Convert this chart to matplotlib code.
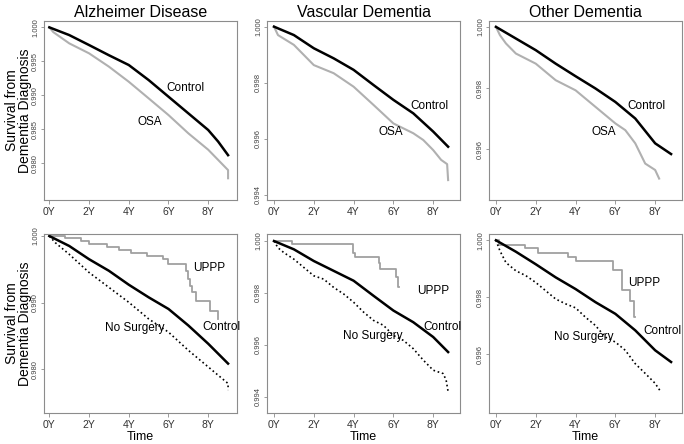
import matplotlib.pyplot as plt

plt.rcParams['font.family'] = ['Liberation Sans', 'DejaVu Sans']

# ---- data (years, survival) ----
# Alzheimer, control vs OSA
alz_ctrl_t = [0, 1, 2, 3, 4, 5, 6, 7, 8, 8.5, 9.0]
alz_ctrl_s = [1.0, 0.99887, 0.9974, 0.9959, 0.99446, 0.99225, 0.9898, 0.98735, 0.9849, 0.9832, 0.9812]
alz_osa_t = [0, 0.2, 1, 2, 3, 4, 5, 6, 7, 8, 8.5, 9.0, 9.0]
alz_osa_s = [1.0, 0.9993, 0.99765, 0.99618, 0.99422, 0.9920, 0.98956, 0.9871, 0.98441, 0.9820, 0.9805, 0.9790, 0.9778]

# Vascular dementia, control vs OSA
vas_ctrl_t = [0, 1, 2, 3, 4, 5, 6, 7, 8, 8.75]
vas_ctrl_s = [1.0, 0.9997, 0.99923, 0.99887, 0.99846, 0.99792, 0.99739, 0.99691, 0.99626, 0.99572]
vas_osa_t = [0, 0.2, 1, 2, 3, 4, 5, 6, 7, 7.5, 8, 8.4, 8.7, 8.75]
vas_osa_s = [1.0, 0.9997, 0.99935, 0.99863, 0.99834, 0.99786, 0.99721, 0.99655, 0.9962, 0.99596,
             0.9956, 0.99525, 0.9951, 0.99453]

# Other dementia, control vs OSA
oth_ctrl_t = [0, 1, 2, 3, 4, 5, 6, 7, 8, 8.8]
oth_ctrl_s = [1.0, 0.99962, 0.99924, 0.9988, 0.99839, 0.99799, 0.99755, 0.99701, 0.9962, 0.99585]
oth_osa_t = [0, 0.2, 0.5, 1, 2, 3, 4, 5, 6, 6.5, 7, 7.5, 8, 8.2]
oth_osa_s = [1.0, 0.99973, 0.99946, 0.99913, 0.9988, 0.99826, 0.99793, 0.99739, 0.99685, 0.99663,
             0.9962, 0.99554, 0.99533, 0.99505]

# Alzheimer, control / UPPP / no surgery
alz2_ctrl_t = [0, 1, 2, 3, 4, 5, 6, 7, 8, 9]
alz2_ctrl_s = [1.0, 0.99851, 0.99652, 0.99478, 0.99269, 0.9908, 0.98905, 0.98657, 0.98383, 0.98085]
alz2_nos_t = [0, 0.3, 1, 2, 3, 4, 5, 6, 7, 8, 8.5, 9, 9]
alz2_nos_s = [1.0, 0.999, 0.99726, 0.99453, 0.99229, 0.99005, 0.98756, 0.98557, 0.98284, 0.98035,
              0.9791, 0.97786, 0.97687]
alz2_uppp_t = [0, 0.8, 1.6, 2.0, 2.9, 3.5, 4.1, 4.9, 5.7, 6.0, 6.9, 7.0, 7.1, 7.2, 7.4, 8.1, 8.5]
alz2_uppp_s = [1.0, 0.99965, 0.99925, 0.99876, 0.99836, 0.99786, 0.99741, 0.99701, 0.99652, 0.99587,
               0.99478, 0.99353, 0.99254, 0.99154, 0.9903, 0.98881, 0.98756]

# Vascular dementia, control / UPPP / no surgery
vas2_ctrl_t = [0, 1, 2, 3, 4, 5, 6, 7, 8, 8.75]
vas2_ctrl_s = [1.0, 0.99968, 0.99923, 0.99885, 0.99847, 0.99789, 0.99732, 0.99687, 0.9963, 0.99572]
vas2_nos_t = [0, 0.2, 0.5, 1, 1.5, 2, 2.5, 3, 3.5, 4, 4.5, 5, 5.5, 6, 6.5, 7, 7.5, 8, 8.5, 8.65, 8.75]
vas2_nos_s = [1.0, 0.99974, 0.99955, 0.9993, 0.99898, 0.99866, 0.99853, 0.99821, 0.99796, 0.99764,
              0.99726, 0.99694, 0.99675, 0.99636, 0.99617, 0.99585, 0.99541, 0.99502, 0.99489,
              0.99464, 0.99419]
vas2_uppp_t = [0, 0.9, 3.95, 4.05, 5.3, 5.35, 6.15, 6.25, 6.3]
vas2_uppp_s = [1.0, 0.99987, 0.99955, 0.99939, 0.99917, 0.99892, 0.9986, 0.99821, 0.99821]

# Other dementia, control / UPPP / no surgery
oth2_ctrl_t = [0, 1, 2, 3, 4, 5, 6, 7, 8, 8.8]
oth2_ctrl_s = [1.0, 0.9996, 0.99916, 0.9987, 0.99829, 0.99783, 0.99742, 0.99684, 0.99614, 0.99573]
oth2_nos_t = [0, 0.2, 0.5, 1, 1.5, 2, 2.5, 3, 3.5, 4, 4.5, 5, 5.5, 6, 6.5, 7, 7.5, 8, 8.25]
oth2_nos_s = [1.0, 0.99963, 0.99922, 0.99893, 0.99876, 0.99852, 0.99823, 0.99794, 0.99777, 0.99763,
              0.9973, 0.99701, 0.9966, 0.99643, 0.99614, 0.99567, 0.99533, 0.99498, 0.99472]
oth2_uppp_t = [0, 0.15, 1.45, 2.1, 3.6, 4.0, 5.9, 6.35, 6.75, 6.95, 7.0]
oth2_uppp_s = [1.0, 0.99984, 0.99972, 0.99957, 0.99942, 0.99926, 0.99895, 0.99826, 0.99788, 0.9973, 0.9973]

titles = ['Alzheimer Disease', 'Vascular Dementia', 'Other Dementia']
x_ticks = [0, 2, 4, 6, 8]
x_labels = ['0Y', '2Y', '4Y', '6Y', '8Y']

SPINE = '#8c8c8c'
OSA_GREY = '#b0b0b0'
UPPP_GREY = '#a0a0a0'

fig = plt.figure(figsize=(6.84, 4.44), dpi=100)
lefts = [0.0643, 0.3904, 0.7149]
bottoms = [0.5495, 0.0698]
W, H = 0.2822, 0.4031


def style_axes(ax, xlim, ylim, yticks):
    ax.set_xlim(*xlim)
    ax.set_ylim(*ylim)
    for sp in ax.spines.values():
        sp.set_color(SPINE)
        sp.set_linewidth(0.8)
    ax.set_xticks(x_ticks)
    ax.set_xticklabels(x_labels, fontsize=7.5, color='#333333')
    ax.set_yticks(yticks)
    ax.set_yticklabels(['%.3f' % v for v in yticks], fontsize=5.5, rotation=90, va='center',
                       color='#444444')
    ax.tick_params(axis='x', length=3, width=0.6, color=SPINE, pad=2)
    ax.tick_params(axis='y', length=2.5, width=0.6, color=SPINE, pad=1)


panels = [
    # row 0
    dict(row=0, col=0, xlim=(-0.27, 9.45), ylim=(0.9746, 1.00093),
         yticks=[0.980, 0.985, 0.990, 0.995, 1.000],
         lines=[(alz_osa_t, alz_osa_s, OSA_GREY, '-', 1.5),
                (alz_ctrl_t, alz_ctrl_s, 'black', '-', 1.8)],
         labels=[('Control', 5.9, 0.99107), ('OSA', 4.46, 0.98607)]),
    dict(row=0, col=1, xlim=(-0.35, 9.35), ylim=(0.99382, 1.0002),
         yticks=[0.994, 0.996, 0.998, 1.000],
         lines=[(vas_osa_t, vas_osa_s, OSA_GREY, '-', 1.5),
                (vas_ctrl_t, vas_ctrl_s, 'black', '-', 1.8)],
         labels=[('Control', 6.83, 0.99717), ('OSA', 5.23, 0.99625)]),
    dict(row=0, col=2, xlim=(-0.35, 9.35), ylim=(0.99435, 1.00019),
         yticks=[0.996, 0.998, 1.000],
         lines=[(oth_osa_t, oth_osa_s, OSA_GREY, '-', 1.5),
                (oth_ctrl_t, oth_ctrl_s, 'black', '-', 1.8)],
         labels=[('Control', 6.6, 0.99741), ('OSA', 4.79, 0.99656)]),
    # row 1
    dict(row=1, col=0, xlim=(-0.27, 9.45), ylim=(0.97343, 1.0003),
         yticks=[0.980, 0.990, 1.000],
         lines=[(alz2_uppp_t, alz2_uppp_s, UPPP_GREY, 'step', 1.3),
                (alz2_nos_t, alz2_nos_s, 'black', ':', 1.2),
                (alz2_ctrl_t, alz2_ctrl_s, 'black', '-', 1.8)],
         labels=[('UPPP', 7.22, 0.99522), ('Control', 7.72, 0.98627),
                 ('No Surgery', 2.8, 0.98612)]),
    dict(row=1, col=1, xlim=(-0.35, 9.35), ylim=(0.99337, 1.00027),
         yticks=[0.994, 0.996, 0.998, 1.000],
         lines=[(vas2_uppp_t, vas2_uppp_s, UPPP_GREY, 'step', 1.3),
                (vas2_nos_t, vas2_nos_s, 'black', ':', 1.2),
                (vas2_ctrl_t, vas2_ctrl_s, 'black', '-', 1.8)],
         labels=[('UPPP', 7.17, 0.99808), ('Control', 7.52, 0.99667),
                 ('No Surgery', 3.45, 0.99632)]),
    dict(row=1, col=2, xlim=(-0.35, 9.35), ylim=(0.99394, 1.00022),
         yticks=[0.996, 0.998, 1.000],
         lines=[(oth2_uppp_t, oth2_uppp_s, UPPP_GREY, 'step', 1.3),
                (oth2_nos_t, oth2_nos_s, 'black', ':', 1.2),
                (oth2_ctrl_t, oth2_ctrl_s, 'black', '-', 1.8)],
         labels=[('UPPP', 6.65, 0.99851), ('Control', 7.4, 0.99683),
                 ('No Surgery', 2.93, 0.99659)]),
]

for p in panels:
    ax = fig.add_axes([lefts[p['col']], bottoms[p['row']], W, H])
    for t, s, color, ls, lw in p['lines']:
        if ls == 'step':
            ax.plot(t, s, color=color, lw=lw, drawstyle='steps-post')
        else:
            ax.plot(t, s, color=color, lw=lw, linestyle=ls)
    for txt, x, y in p['labels']:
        ax.text(x, y, txt, fontsize=8.5, ha='left', va='center')
    style_axes(ax, p['xlim'], p['ylim'], p['yticks'])
    if p['row'] == 0:
        ax.set_title(titles[p['col']], fontsize=11.5, pad=3)
    else:
        ax.set_xlabel('Time', fontsize=9, labelpad=1)
    if p['col'] == 0:
        ax.set_ylabel('Survival from\nDementia Diagnosis', fontsize=10, linespacing=0.95,
                      va='center', ha='center')
        ax.yaxis.set_label_coords(-0.132, 0.5)

fig.savefig('out.png', dpi=100)
